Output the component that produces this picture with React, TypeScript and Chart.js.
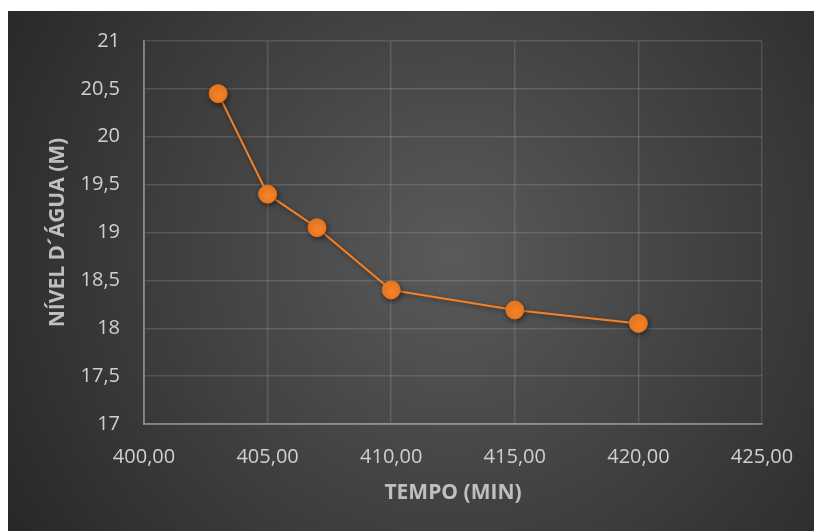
import React, { useEffect, useRef } from "react";
import { Chart, registerables } from "chart.js";

Chart.register(...registerables);

const tempoMin = [403, 405, 407, 410, 415, 420];
const nivelAgua = [20.45, 19.4, 19.05, 18.4, 18.19, 18.05];
const xTitle = "TEMPO (MIN)";
const yTitle = "NÍVEL D´ÁGUA (M)";

const bgPlugin = {
  id: "bgGradient",
  beforeDraw(chart: any) {
    const { ctx, width, height } = chart;
    ctx.save();
    const g = ctx.createRadialGradient(445, 245, 0, 445, 245, 560);
    g.addColorStop(0, "#5a5a5a");
    g.addColorStop(1, "#242424");
    ctx.fillStyle = g;
    ctx.fillRect(0, 0, width, height);
    ctx.restore();
  },
  beforeDatasetDraw(chart: any) {
    const ctx = chart.ctx;
    ctx.save();
    ctx.shadowColor = "rgba(0,0,0,0.45)";
    ctx.shadowBlur = 5;
    ctx.shadowOffsetX = 1;
    ctx.shadowOffsetY = 2;
  },
  afterDatasetDraw(chart: any) {
    chart.ctx.restore();
  },
};

export default function App() {
  const ref = useRef<HTMLCanvasElement>(null);
  useEffect(() => {
    if (!ref.current) return;
    const chart = new Chart(ref.current, {
      type: "scatter",
      data: {
        datasets: [
          {
            data: tempoMin.map((x, i) => ({ x, y: nivelAgua[i] })),
            showLine: true,
            borderColor: "#f58025",
            borderWidth: 2,
            backgroundColor: "#f58025",
            pointBackgroundColor: "#f58025",
            pointBorderColor: "#e8731c",
            pointBorderWidth: 1,
            pointRadius: 9,
            pointHoverRadius: 9,
          },
        ],
      },
      options: {
        animation: false,
        responsive: false,
        maintainAspectRatio: false,
        layout: { padding: { top: 30, right: 52, left: 0, bottom: 0 } },
        plugins: { legend: { display: false }, tooltip: { enabled: false } },
        scales: {
          x: {
            type: "linear",
            min: 400,
            max: 425,
            afterFit(s: any) {
              s.height = 107;
              s.paddingLeft = 0;
              s.paddingRight = 0;
            },
            ticks: {
              stepSize: 5,
              padding: 21,
              color: "#d0d0d0",
              font: { family: "'Open Sans'", size: 20 },
              callback: (v: any) => Number(v).toFixed(2).replace(".", ","),
            },
            grid: { color: "rgba(255,255,255,0.13)", lineWidth: 1.5, drawTicks: false },
            border: { color: "rgba(255,255,255,0.3)", width: 2 },
            title: {
              display: true,
              text: xTitle,
              color: "#bfbfbf",
              font: { family: "'Open Sans'", size: 21, weight: "bold" },
              padding: { top: 0, bottom: 25 },
            },
          },
          y: {
            min: 17,
            max: 21,
            afterFit(s: any) {
              s.width = 136;
              s.paddingTop = 0;
              s.paddingBottom = 0;
            },
            ticks: {
              stepSize: 0.5,
              padding: 24,
              color: "#d0d0d0",
              font: { family: "'Open Sans'", size: 20 },
              callback: (v: any) => String(v).replace(".", ","),
            },
            grid: { color: "rgba(255,255,255,0.13)", lineWidth: 1.5, drawTicks: false },
            border: { color: "rgba(255,255,255,0.3)", width: 2 },
            title: {
              display: true,
              text: yTitle,
              color: "#bfbfbf",
              font: { family: "'Open Sans'", size: 21, weight: "bold" },
              padding: { top: 37, bottom: 0 },
            },
          },
        },
      },
      plugins: [bgPlugin],
    });
    return () => chart.destroy();
  }, []);
  return (
    <div style={{ position: "absolute", left: 8, top: 11, width: 806, height: 520 }}>
      <canvas ref={ref} width={806} height={520} style={{ width: 806, height: 520, display: "block" }} />
    </div>
  );
}
